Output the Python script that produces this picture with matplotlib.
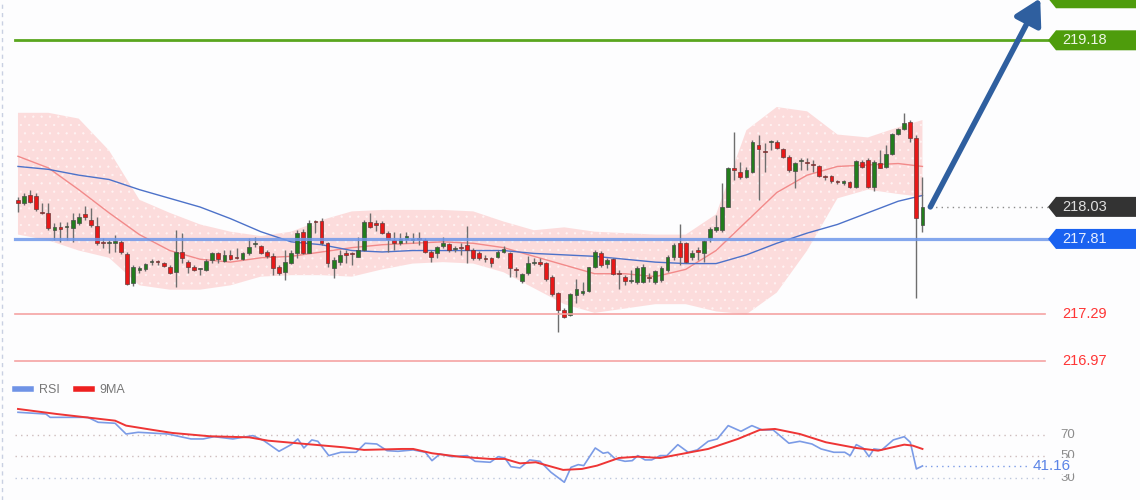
import numpy as np
import matplotlib
matplotlib.use("Agg")
import matplotlib.pyplot as plt
import matplotlib.transforms as mtransforms
from matplotlib.lines import Line2D
from matplotlib.patches import Polygon

plt.rcParams['font.family'] = ['Liberation Sans', 'DejaVu Sans']
plt.rcParams['hatch.linewidth'] = 0.35

# Kerzen (OHLC), eine pro Periode
opens = [
    218.079, 218.058, 218.114, 218.107, 217.996, 217.989, 217.872, 217.893, 217.893, 217.886,
    217.920, 217.982, 217.941, 217.900, 217.782, 217.779, 217.782, 217.789, 217.706, 217.506,
    217.596, 217.603, 217.648, 217.651, 217.644, 217.617, 217.582, 217.720, 217.651, 217.617,
    217.600, 217.596, 217.665, 217.713, 217.658, 217.700, 217.686, 217.672, 217.713, 217.773,
    217.762, 217.720, 217.693, 217.617, 217.582, 217.644, 217.713, 217.858, 217.713, 217.934,
    217.934, 217.782, 217.610, 217.651, 217.713, 217.706, 217.686, 217.734, 217.927, 217.920,
    217.920, 217.851, 217.803, 217.782, 217.810, 217.803, 217.813, 217.803, 217.720, 217.713,
    217.762, 217.776, 217.741, 217.748, 217.769, 217.734, 217.713, 217.679, 217.679, 217.686,
    217.720, 217.713, 217.603, 217.520, 217.575, 217.644, 217.651, 217.644, 217.548, 217.437,
    217.320, 217.286, 217.424, 217.437, 217.451, 217.617, 217.713, 217.638, 217.672, 217.568,
    217.548, 217.520, 217.513, 217.513, 217.541, 217.513, 217.527, 217.596, 217.686, 217.782,
    217.782, 217.686, 217.734, 217.713, 217.817, 217.872, 217.872, 218.031, 218.300, 218.272,
    218.238, 218.272, 218.459, 218.413, 218.476, 218.479, 218.431, 218.376, 218.279, 218.345,
    218.337, 218.324, 218.314, 218.241, 218.245, 218.206, 218.196, 218.203, 218.169, 218.341,
    218.355, 218.169, 218.334, 218.307, 218.396, 218.534, 218.569, 218.617, 218.507, 217.907,
]
highs = [
    218.100, 218.127, 218.148, 218.127, 218.058, 218.058, 217.920, 217.927, 217.927, 217.989,
    217.989, 218.038, 218.024, 217.962, 217.817, 217.803, 217.838, 217.803, 217.720, 217.631,
    217.624, 217.644, 217.672, 217.665, 217.651, 217.631, 217.872, 217.851, 217.665, 217.631,
    217.610, 217.672, 217.720, 217.720, 217.734, 217.734, 217.748, 217.720, 217.817, 217.824,
    217.769, 217.734, 217.713, 217.631, 217.734, 217.734, 217.872, 217.879, 217.941, 217.941,
    217.955, 217.789, 217.686, 217.734, 217.734, 217.720, 217.824, 217.941, 217.989, 217.941,
    217.934, 217.865, 217.858, 217.851, 217.858, 217.851, 217.858, 217.817, 217.734, 217.758,
    217.824, 217.782, 217.762, 217.782, 217.900, 217.748, 217.727, 217.700, 217.686, 217.734,
    217.762, 217.720, 217.617, 217.575, 217.693, 217.679, 217.679, 217.651, 217.562, 217.444,
    217.334, 217.437, 217.534, 217.513, 217.617, 217.734, 217.727, 217.679, 217.679, 217.596,
    217.562, 217.596, 217.624, 217.638, 217.575, 217.596, 217.624, 217.700, 217.782, 217.913,
    217.789, 217.734, 217.755, 217.803, 217.893, 217.976, 218.196, 218.307, 218.548, 218.341,
    218.307, 218.493, 218.528, 218.472, 218.493, 218.493, 218.438, 218.390, 218.341, 218.369,
    218.369, 218.355, 218.321, 218.252, 218.252, 218.217, 218.217, 218.210, 218.355, 218.355,
    218.369, 218.355, 218.424, 218.459, 218.541, 218.576, 218.679, 218.631, 218.528, 218.238,
]
lows = [
    217.996, 218.045, 218.058, 218.003, 217.982, 217.872, 217.803, 217.789, 217.803, 217.789,
    217.907, 217.941, 217.893, 217.769, 217.748, 217.713, 217.720, 217.706, 217.493, 217.486,
    217.575, 217.589, 217.631, 217.631, 217.617, 217.568, 217.479, 217.644, 217.575, 217.589,
    217.562, 217.589, 217.644, 217.644, 217.651, 217.665, 217.672, 217.665, 217.700, 217.755,
    217.706, 217.679, 217.562, 217.562, 217.527, 217.638, 217.679, 217.706, 217.710, 217.851,
    217.769, 217.617, 217.541, 217.631, 217.644, 217.631, 217.683, 217.727, 217.886, 217.865,
    217.845, 217.720, 217.734, 217.769, 217.782, 217.782, 217.769, 217.713, 217.651, 217.679,
    217.748, 217.720, 217.720, 217.700, 217.644, 217.665, 217.665, 217.651, 217.617, 217.679,
    217.713, 217.548, 217.548, 217.506, 217.562, 217.631, 217.624, 217.520, 217.417, 217.168,
    217.265, 217.279, 217.368, 217.424, 217.444, 217.610, 217.617, 217.610, 217.562, 217.465,
    217.493, 217.506, 217.500, 217.506, 217.513, 217.500, 217.513, 217.582, 217.665, 217.631,
    217.644, 217.665, 217.665, 217.651, 217.789, 217.858, 217.858, 218.028, 218.217, 218.224,
    218.231, 218.265, 218.079, 218.272, 218.424, 218.431, 218.369, 218.272, 218.162, 218.286,
    218.286, 218.272, 218.238, 218.217, 218.196, 218.189, 218.183, 218.162, 218.162, 218.300,
    218.162, 218.141, 218.297, 218.300, 218.390, 218.528, 218.562, 218.479, 217.403, 217.858,
]
closes = [
    218.058, 218.107, 218.065, 218.017, 217.989, 217.886, 217.893, 217.879, 217.900, 217.941,
    217.962, 217.962, 217.907, 217.782, 217.779, 217.782, 217.796, 217.720, 217.500, 217.617,
    217.610, 217.638, 217.651, 217.648, 217.624, 217.575, 217.720, 217.679, 217.617, 217.596,
    217.603, 217.658, 217.713, 217.672, 217.700, 217.672, 217.679, 217.713, 217.755, 217.776,
    217.713, 217.693, 217.610, 217.575, 217.651, 217.713, 217.851, 217.713, 217.920, 217.927,
    217.782, 217.644, 217.665, 217.700, 217.700, 217.703, 217.734, 217.927, 217.893, 217.907,
    217.851, 217.810, 217.782, 217.810, 217.831, 217.810, 217.810, 217.720, 217.686, 217.755,
    217.782, 217.734, 217.748, 217.745, 217.734, 217.679, 217.679, 217.672, 217.644, 217.720,
    217.741, 217.610, 217.596, 217.568, 217.644, 217.651, 217.638, 217.534, 217.431, 217.320,
    217.272, 217.431, 217.465, 217.451, 217.617, 217.720, 217.631, 217.665, 217.568, 217.565,
    217.520, 217.523, 217.610, 217.617, 217.538, 217.589, 217.610, 217.686, 217.769, 217.686,
    217.651, 217.713, 217.720, 217.796, 217.879, 217.893, 218.031, 218.300, 218.286, 218.238,
    218.286, 218.479, 218.431, 218.410, 218.479, 218.438, 218.376, 218.286, 218.334, 218.348,
    218.334, 218.321, 218.245, 218.238, 218.210, 218.203, 218.210, 218.169, 218.348, 218.307,
    218.169, 218.341, 218.300, 218.396, 218.534, 218.569, 218.610, 218.507, 217.955, 218.031,
]

band_pos = [0, 5, 10, 15, 20, 25, 30, 35, 40, 45, 50, 55, 60, 65, 70, 75, 80, 85, 90, 95,
            100, 105, 110, 115, 120, 125, 130, 135, 140, 145, 149]
band_upper = [218.68, 218.68, 218.64, 218.42, 218.08, 217.99, 217.91, 217.86, 217.83, 217.86,
              217.94, 218.00, 218.01, 218.01, 218.01, 218.00, 217.93, 217.87, 217.89, 217.86,
              217.85, 217.84, 217.84, 217.98, 218.56, 218.72, 218.69, 218.53, 218.51, 218.58, 218.63]
band_lower = [217.84, 217.80, 217.73, 217.68, 217.49, 217.46, 217.46, 217.49, 217.55, 217.56,
              217.56, 217.55, 217.60, 217.64, 217.65, 217.64, 217.58, 217.47, 217.36, 217.30,
              217.33, 217.36, 217.36, 217.31, 217.29, 217.44, 217.73, 218.09, 218.15, 218.12, 218.10]
band_mid = [218.38, 218.30, 218.15, 217.99, 217.84, 217.73, 217.67, 217.65, 217.68, 217.69,
            217.72, 217.75, 217.77, 217.78, 217.79, 217.78, 217.75, 217.69, 217.63, 217.57,
            217.57, 217.55, 217.60, 217.73, 217.93, 218.13, 218.25, 218.31, 218.32, 218.33, 218.31]
ma_long = [218.31, 218.29, 218.25, 218.22, 218.15, 218.09, 218.03, 217.95, 217.86, 217.79,
           217.77, 217.73, 217.72, 217.73, 217.73, 217.73, 217.73, 217.71, 217.70, 217.69,
           217.67, 217.65, 217.64, 217.64, 217.70, 217.78, 217.85, 217.91, 217.99, 218.07, 218.11]

# Niveaus
target = 219.47
resist_1 = 219.18
pivot = 217.81
support_1 = 217.29
support_2 = 216.97

# RSI und 9MA
rsi_pos = [0.0, 4.6, 5.3, 11.5, 13.2, 16.0, 17.8, 19.8, 24.7, 28.5, 30.5, 32.3, 35.4, 38.7,
           40.5, 43.0, 45.0, 46.1, 47.1, 48.4, 49.4, 51.2, 53.2, 55.7, 57.2, 59.1, 60.8, 62.6,
           65.1, 67.1, 68.2, 69.5, 71.5, 74.0, 75.3, 77.8, 79.1, 80.2, 81.2, 82.7, 84.3, 86.0,
           87.8, 90.0, 91.1, 92.3, 93.2, 95.1, 96.4, 97.2, 98.4, 100.0, 101.2, 102.1, 103.3,
           104.4, 105.8, 106.9, 108.7, 110.4, 111.9, 113.7, 115.2, 117.0, 119.1, 120.9, 122.6,
           124.4, 127.0, 128.8, 130.8, 132.3, 134.4, 136.2, 137.1, 138.1, 139.2, 140.2, 141.0,
           142.3, 144.2, 146.0, 147.0, 148.0, 149.0]
rsi_val = [91.1, 89.5, 86.4, 86.4, 81.8, 80.9, 70.9, 72.5, 70.9, 66.3, 66.3, 68.4, 66.3, 69.4,
           64.7, 54.8, 61.0, 66.3, 57.9, 65.4, 64.1, 50.8, 53.9, 53.9, 62.3, 61.6, 55.4, 54.8,
           56.1, 53.9, 46.1, 52.3, 49.8, 50.8, 45.5, 44.6, 49.8, 48.6, 40.5, 39.3, 46.8, 45.5,
           35.3, 26.0, 39.9, 42.4, 41.5, 57.9, 53.0, 53.9, 47.7, 45.5, 46.1, 50.8, 46.8,
           46.8, 50.8, 50.8, 61.0, 53.9, 56.1, 64.1, 66.3, 78.7, 73.4, 78.7, 74.7,
           74.7, 62.3, 64.1, 61.6, 57.0, 53.9, 53.9, 50.8, 61.0, 57.9, 49.8, 57.0,
           56.1, 65.4, 68.4, 63.2, 38.4, 41.16]
ma9_pos = [0, 6.4, 16.0, 17.8, 22.2, 25.4, 31.6, 38.1, 41.2, 47.4, 53.7, 57.0, 63.3, 65.1,
           68.2, 72.7, 77.8, 80.2, 82.7, 85.3, 89.8, 92.9, 95.4, 99.0, 102.1, 105.8, 108.7,
           113.7, 118.6, 122.2, 124.7, 128.8, 133.1, 138.1, 141.7, 146.0, 147.4, 149.0]
ma9_val = [94.2, 89.5, 83.3, 78.7, 74.7, 71.9, 68.8, 67.8, 64.7, 61.6, 58.5, 56.1, 57.0, 57.0,
           53.0, 49.8, 47.7, 47.7, 43.6, 44.6, 37.5, 38.4, 41.5, 48.6, 49.8, 48.6, 51.7,
           57.0, 66.3, 74.7, 75.6, 70.9, 63.2, 57.9, 55.4, 61.0, 60.1, 57.0]
rsi_levels = [70, 50, 30]

W = 1140.0
bg = '#fdfdfe'
fig = plt.figure(figsize=(11.4, 5.0), dpi=100, facecolor=bg)
ax = fig.add_axes([0, 0.24, 1, 0.76])
ax_rsi = fig.add_axes([0, 0, 1, 0.244])
for a in (ax, ax_rsi):
    a.set_facecolor('none')
    a.set_axis_off()
    a.set_xlim(-2.965, 184.84)
ax.set_ylim(216.837, 219.458)
ax_rsi.set_ylim(9.5, 123)

# linker gestrichelter Rand
fig.add_artist(Line2D([0.0018, 0.0018], [0, 1], transform=fig.transFigure,
                      color='#c9d0e2', lw=1, ls=(0, (3, 3))))

# Band + Mittellinien
ax.fill_between(band_pos, band_lower, band_upper, facecolor='#fcdcdc', edgecolor='#fff4f4',
                hatch='..', linewidth=0, zorder=1)
ax.plot(band_pos, band_mid, color='#f28a8a', lw=1, zorder=2)
ax.plot(band_pos, ma_long, color='#4d72c9', lw=1, zorder=2)

# Kerzen
o = np.array(opens)
h = np.array(highs)
l = np.array(lows)
c = np.array(closes)
idx = np.arange(len(o))
up = c >= o
ax.vlines(idx, l, h, color='#6e6e6e', lw=1, zorder=3)
body = np.maximum(np.abs(c - o), 0.008)
bottom = np.minimum(o, c)
ax.bar(idx[up], body[up], bottom=bottom[up], width=0.62, color='#237d1d',
       edgecolor='#4a4a4a', lw=0.5, zorder=4)
ax.bar(idx[~up], body[~up], bottom=bottom[~up], width=0.62, color='#e81818',
       edgecolor='#6a3a3a', lw=0.5, zorder=4)

# Horizontale Niveaus
x0, x1 = 15 / W, 1048 / W
ax.axhline(resist_1, xmin=x0, xmax=x1, color='#5aa61e', lw=2, zorder=5)
ax.axhline(pivot, xmin=x0, xmax=x1, color='#6f98ea', lw=2.3, alpha=0.85, zorder=5)
ax.axhline(support_1, xmin=x0, xmax=1045 / W, color='#f5a3a3', lw=1.2, zorder=5)
ax.axhline(support_2, xmin=x0, xmax=1045 / W, color='#f5a3a3', lw=1.2, zorder=5)
ax.plot([len(o) + 0.3, 169.7], [closes[-1], closes[-1]], color='#8a8a8a', lw=1,
        ls=(0, (1, 3)), zorder=5)

blend = mtransforms.blended_transform_factory(ax.transAxes, ax.transData)


def tag(y, text, face, tcol):
    hh = 10 / 145.0
    pts = [(1048 / W, y), (1056 / W, y + hh), (1136 / W, y + hh),
           (1136 / W, y - hh), (1056 / W, y - hh)]
    ax.add_patch(Polygon(pts, closed=True, transform=blend, facecolor=face,
                         edgecolor='none', zorder=6, clip_on=False))
    if text:
        ax.text(1062 / W, y, text, transform=blend, color=tcol, fontsize=10.5,
                va='center', ha='left', zorder=7)


tag(target, None, '#4e9c0c', '#eef6e6')
tag(resist_1, f"{resist_1:.2f}", '#4e9c0c', '#eef6e6')
tag(closes[-1], f"{closes[-1]:.2f}", '#333333', '#e0e0e0')
tag(pivot, f"{pivot:.2f}", '#1a62f0', '#e8efff')
for lv in (support_1, support_2):
    ax.text(1062 / W, lv, f"{lv:.2f}", transform=blend, color='#ff3535', fontsize=10.5,
            va='center', ha='left')

# Pfeil zum Ziel
ax.annotate('', xy=(168.4, target), xytext=(150.3, closes[-1]),
            arrowprops=dict(arrowstyle='-|>,head_length=0.7,head_width=0.4',
                            color='#2f5f9f', lw=4, shrinkA=0, shrinkB=0,
                            mutation_scale=22),
            annotation_clip=False, zorder=8)

# RSI-Panel
blend_r = mtransforms.blended_transform_factory(ax_rsi.transAxes, ax_rsi.transData)
for lvl, col in zip(rsi_levels, ['#cdbcbc', '#cdbcbc', '#bcc6dc']):
    ax_rsi.axhline(lvl, xmin=x0, xmax=1045 / W, color=col, lw=1, ls=(0, (1, 3)))
    ax_rsi.text(1060 / W, lvl, str(lvl), transform=blend_r, color='#8c8c8c',
                fontsize=9.5, va='center', ha='left')
ax_rsi.plot(rsi_pos, rsi_val, color='#7b9be6', lw=1.2, zorder=3)
ax_rsi.plot(ma9_pos, ma9_val, color='#ee3535', lw=1.4, zorder=4)
ax_rsi.plot([149.4, 166.7], [rsi_val[-1], rsi_val[-1]], color='#7b9be6', lw=1,
            ls=(0, (1, 3)))
ax_rsi.text(1033 / W, rsi_val[-1], f"{rsi_val[-1]:.2f}", transform=blend_r,
            color='#5b84e6', fontsize=11, va='center', ha='left', zorder=6,
            bbox=dict(facecolor=bg, edgecolor='none', pad=1.0))

handles = [Line2D([], [], color='#6f93e6', lw=4), Line2D([], [], color='#ee2020', lw=4)]
ax_rsi.legend(handles, ['RSI', '9MA'], loc='upper left', bbox_to_anchor=(15 / W, 0.95),
              frameon=False, ncol=2, fontsize=9, handlelength=1.3, handletextpad=0.6,
              columnspacing=1.3, borderpad=0, borderaxespad=0, labelcolor='#777777')

fig.savefig('out.png', dpi=100, facecolor=bg)
